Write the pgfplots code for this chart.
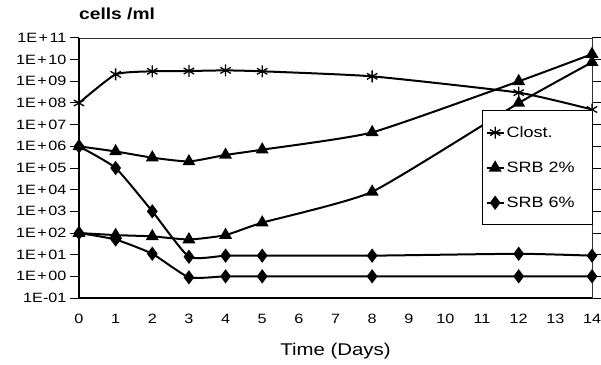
\documentclass[border=0pt]{standalone}
\usepackage{fontspec}
\setmainfont{Liberation Sans}[FakeStretch=1.2]
\usepackage{pgfplots}
\pgfplotsset{compat=1.18}
\begin{document}
\begin{tikzpicture}[x=1pt,y=1pt]
\useasboundingbox (0,0) rectangle (601,364);
\begin{axis}[
  at={(79pt,66pt)}, anchor=south west,
  scale only axis, width=513pt, height=260pt,
  xmin=0, xmax=14, ymin=1e-1, ymax=1e11,
  ymode=log, log basis y=10,
  clip=false,
  axis line style={line width=0.7pt, draw=black!80},
  xtick={0,1,...,14},
  xtick style={draw=none},
  /pgf/number format/assume math mode=true,
  ytick={1e-1,1e0,1e1,1e2,1e3,1e4,1e5,1e6,1e7,1e8,1e9,1e10,1e11},
  yticklabels={1E-01,1E\hspace{1.5pt}+\hspace{1.5pt}00,1E\hspace{1.5pt}+\hspace{1.5pt}01,1E\hspace{1.5pt}+\hspace{1.5pt}02,1E\hspace{1.5pt}+\hspace{1.5pt}03,1E\hspace{1.5pt}+\hspace{1.5pt}04,1E\hspace{1.5pt}+\hspace{1.5pt}05,1E\hspace{1.5pt}+\hspace{1.5pt}06,1E\hspace{1.5pt}+\hspace{1.5pt}07,1E\hspace{1.5pt}+\hspace{1.5pt}08,1E\hspace{1.5pt}+\hspace{1.5pt}09,1E\hspace{1.5pt}+\hspace{1.5pt}10,1E\hspace{1.5pt}+\hspace{1.5pt}11},
  ytick style={line width=1pt, black},
  tick align=outside, major tick length=9pt,
  yminorticks=false,
  ticklabel style={font=\fontsize{13.5}{15}\selectfont, black},
  xticklabel style={yshift=-4pt},
  xlabel={Time (Days)},
  xlabel style={font=\fontsize{17}{20}\selectfont, at={(rel axis cs:0.5,0)}, anchor=base, yshift=-57pt},
  legend style={at={(0.786,0.723)}, anchor=north west, draw=black, line width=0.8pt,
    fill=white, font=\fontsize{15}{17}\selectfont, inner xsep=3pt, inner ysep=14pt, row sep=19pt,
    legend cell align=left, nodes={text width=81pt}},
]
\addplot[black, line width=2pt, smooth, tension=0.3, mark=asterisk, mark size=6pt, mark options={line width=1.3pt, solid}]
  coordinates {(0,1e8) (1,2.1e9) (2,2.9e9) (3,3e9) (4,3.2e9) (5,2.9e9) (8,1.7e9) (12,3e8) (14,5e7)};
\addlegendentry{Clost.}
\addplot[black, line width=2pt, smooth, tension=0.3, mark=triangle*, mark size=5.5pt, mark options={solid, fill=black}]
  coordinates {(0,1e6) (1,5.8e5) (2,3e5) (3,2e5) (4,4e5) (5,7e5) (8,4.4e6) (12,1e9) (14,1.8e10)};
\addlegendentry{SRB 2\%}
\addplot[black, line width=2pt, smooth, tension=0.3, mark=diamond*, mark size=5.5pt, mark options={solid, fill=black}]
  coordinates {(0,1e6) (1,1e5) (2,1e3) (3,8) (4,9) (5,9) (8,9) (12,11) (14,9)};
\addlegendentry{SRB 6\%}
\addplot[forget plot, black, line width=2pt, smooth, tension=0.3, mark=triangle*, mark size=5.5pt, mark options={solid, fill=black}]
  coordinates {(0,1e2) (1,8e1) (2,7e1) (3,5e1) (4,8e1) (5,3e2) (8,8e3) (12,1e8) (14,7.6e9)};
\addplot[forget plot, black, line width=2pt, smooth, tension=0.3, mark=diamond*, mark size=5.5pt, mark options={solid, fill=black}]
  coordinates {(0,1e2) (1,5e1) (2,1.1e1) (3,0.9) (4,1) (5,1) (8,1) (12,1) (14,1)};
\draw[line width=1.6pt, black] (rel axis cs:0,0) -- (rel axis cs:0,1);
\draw[line width=1.2pt, black] (rel axis cs:0,0) -- (rel axis cs:1,0);
\node[anchor=base west, font=\bfseries\fontsize{16}{18}\selectfont, inner sep=0pt] at (rel axis cs:0,1) [yshift=18pt] {cells /ml};
\end{axis}
\end{tikzpicture}
\end{document}
